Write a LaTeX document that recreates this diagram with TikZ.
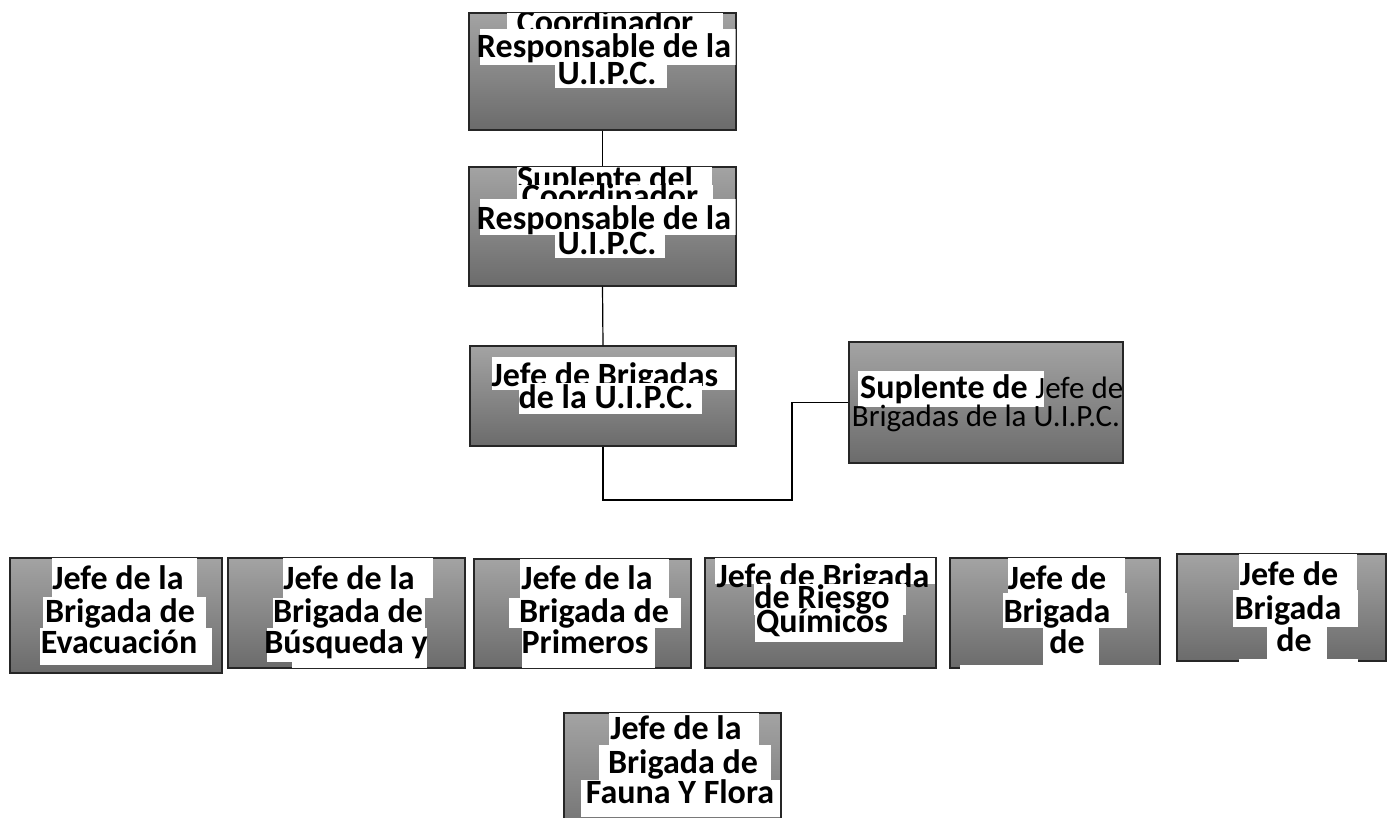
\documentclass[tikz,border=0pt]{standalone}
\usepackage{fontspec}
\setmainfont{Carlito}
\begin{document}
\begin{tikzpicture}[x=1pt,y=-1pt,
  box/.style={draw=black!85, line width=1.3pt, top color=black!36, bottom color=black!58, inner sep=0pt},
  txt/.style={font=\bfseries\fontsize{34}{34}\selectfont, anchor=base, inner sep=0pt, text=black},
  rtxt/.style={font=\mdseries\fontsize{31}{31}\selectfont, anchor=base, inner sep=0pt, text=black},
  conn/.style={draw=black, line width=1.2pt}]
\useasboundingbox (0,0) rectangle (1387,817);
\fill[white] (0,0) rectangle (1387,817);

% ---------- boxes ----------
\node[box, minimum width=267pt, minimum height=117pt] (n1) at (602.5,71.5) {};
\node[box, minimum width=267pt, minimum height=119pt] (n2) at (602.5,226.5) {};
\node[box, minimum width=266pt, minimum height=100pt] (n3) at (603,396) {};
\node[box, minimum width=274pt, minimum height=121pt] (n4) at (986,402.5) {};
\node[box, minimum width=212pt, minimum height=115pt] (b1) at (116,615.5) {};
\node[box, minimum width=237pt, minimum height=110pt] (b2) at (346.5,613) {};
\node[box, minimum width=217pt, minimum height=109pt] (b3) at (582.5,613.5) {};
\node[box, minimum width=231pt, minimum height=110pt] (b4) at (820.5,613) {};
\node[box, minimum width=210pt, minimum height=110pt] (b5) at (1055,613) {};
\node[box, minimum width=209pt, minimum height=107pt] (b6) at (1281.5,607.5) {};
\node[box, minimum width=217pt, minimum height=137pt] (b7) at (672.5,781.5) {};

% ---------- connectors ----------
\coordinate (k1) at (792,500);
\draw[conn] (n1.south) -- (n2.north);
\draw[conn] (n2.south) -- (n3.north);
\draw[conn] (n3.south) |- (k1) |- (n4.west);

% ---------- texts ----------
\begin{scope}
\clip ([shift={(1pt,-1pt)}]n1.north west) rectangle ([shift={(-1pt,1pt)}]n1.south east);
\fill[white] (507,0) rectangle (723,31);
\node[txt] (t1a) at (605,33) {Coordinador};
\fill[white] (480,29) rectangle (736,65);
\node[txt] (t1b) at (604,57) {Responsable de la};
\fill[white] (555,65) rectangle (667,88);
\node[txt] (t1c) at (607,84) {U.I.P.C.};
\end{scope}

\begin{scope}
\clip ([shift={(1pt,-1pt)}]n2.north west) rectangle ([shift={(-1pt,1pt)}]n2.south east);
\fill[white] (517,150) rectangle (712,185);
\node[txt] (t2a) at (605,189) {Suplente del};
\fill[white] (517,185) rectangle (713,199);
\node[txt] (t2b) at (610,207) {Coordinador};
\fill[white] (480,199) rectangle (736,235);
\node[txt] (t2c) at (604,229) {Responsable de la};
\fill[white] (555,235) rectangle (665,258);
\node[txt] (t2d) at (607,254) {U.I.P.C.};
\end{scope}

\begin{scope}
\clip ([shift={(1pt,-1pt)}]n3.north west) rectangle ([shift={(-1pt,1pt)}]n3.south east);
\fill[white] (492,357) rectangle (735,390);
\node[txt] (t3a) at (605,386) {Jefe de Brigadas};
\fill[white] (519,383) rectangle (702,414);
\node[txt] (t3b) at (606,408) {de la U.I.P.C.};
\end{scope}

\begin{scope}
\clip ([shift={(1pt,-1pt)}]n4.north west) rectangle ([shift={(-1pt,1pt)}]n4.south east);
\fill[white] (858,371) rectangle (1044,407);
\node[txt, anchor=base west] (t4a) at (860,398) {Suplente de \mdseries\fontsize{31}{31}\selectfont Jefe de};
\node[rtxt] (t4b) at (986,426) {Brigadas de la U.I.P.C.};
\end{scope}

\begin{scope}
\clip ([shift={(1pt,-1pt)}]b1.north west) rectangle ([shift={(-1pt,1pt)}]b1.south east);
\fill[white] (52,558) rectangle (197,597);
\node[txt] (u1a) at (118,589) {Jefe de la};
\fill[white] (43,597) rectangle (206,628);
\node[txt] (u1b) at (120,622) {Brigada de};
\fill[white] (40,628) rectangle (212,665);
\node[txt] (u1c) at (119,653) {Evacuación};
\end{scope}

\begin{scope}
\clip ([shift={(1pt,-1pt)}]b2.north west) rectangle ([shift={(-1pt,1pt)}]b2.south east);
\fill[white] (283,558) rectangle (433,598);
\node[txt] (u2a) at (349,589) {Jefe de la};
\fill[white] (273,598) rectangle (425,628);
\node[txt] (u2b) at (348,622) {Brigada de};
\fill[white] (267,628) rectangle (427,662);
\node[txt] (u2c) at (346,653) {Búsqueda y};
\fill[white] (292,662) rectangle (427,668);
\end{scope}

\begin{scope}
\clip ([shift={(1pt,-1pt)}]b3.north west) rectangle ([shift={(-1pt,1pt)}]b3.south east);
\fill[white] (520,559) rectangle (669,598);
\node[txt] (u3a) at (587,589) {Jefe de la};
\fill[white] (509,598) rectangle (681,628);
\node[txt] (u3b) at (594,622) {Brigada de};
\fill[white] (522,628) rectangle (655,668);
\node[txt] (u3c) at (585,653) {Primeros};
\end{scope}

\begin{scope}
\clip ([shift={(1pt,-1pt)}]b4.north west) rectangle ([shift={(-1pt,1pt)}]b4.south east);
\fill[white] (715,540) rectangle (935,584);
\node[txt] (u4a) at (823,587) {Jefe de Brigada};
\fill[white] (754,584) rectangle (906,615);
\node[txt] (u4b) at (822,608) {de Riesgo};
\fill[white] (755,615) rectangle (903,642);
\node[txt] (u4c) at (822,632) {Químicos};
\end{scope}

\begin{scope}
\clip ([shift={(1pt,-1pt)}]b5.north west) rectangle ([shift={(2pt,-3pt)}]b5.south east);
\fill[white] (1008,558) rectangle (1125,593);
\node[txt] (u5a) at (1057,589) {Jefe de};
\fill[white] (1003,593) rectangle (1127,628);
\node[txt] (u5b) at (1057,622) {Brigada};
\fill[white] (1043,628) rectangle (1099,665);
\node[txt] (u5c) at (1067,653) {de};
\fill[white] (960,665) rectangle (1162,671);
\end{scope}

\begin{scope}
\clip ([shift={(1pt,-1pt)}]b6.north west) rectangle ([shift={(-1pt,-5pt)}]b6.south east);
\fill[white] (1239,554) rectangle (1357,590);
\node[txt] (u6a) at (1289,585) {Jefe de};
\fill[white] (1233,590) rectangle (1358,627);
\node[txt] (u6b) at (1288,619) {Brigada};
\fill[white] (1267,627) rectangle (1327,660);
\node[txt] (u6c) at (1294,651) {de};
\fill[white] (1239,659) rectangle (1358,666);
\end{scope}

\begin{scope}
\clip ([shift={(1pt,-1pt)}]b7.north west) rectangle ([shift={(-1pt,1pt)}]b7.south east);
\fill[white] (609,713) rectangle (759,745);
\node[txt] (u7a) at (676,739) {Jefe de la};
\fill[white] (599,745) rectangle (771,780);
\node[txt] (u7b) at (683,773) {Brigada de};
\fill[white] (581,780) rectangle (780,817);
\node[txt] (u7c) at (680,803) {Fauna Y Flora};
\end{scope}
\end{tikzpicture}
\end{document}
